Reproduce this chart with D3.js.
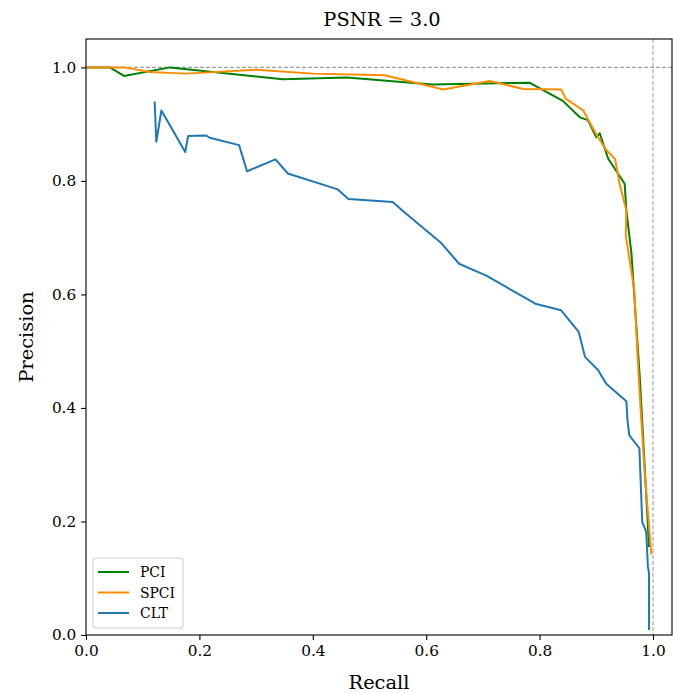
<!DOCTYPE html>
<html>
<head>
<meta charset="utf-8">
<script src="https://cdn.jsdelivr.net/npm/d3@7"></script>
<style>
  body { margin: 0; background: #fff; }
  text { font-family: "DejaVu Serif", serif; }
</style>
</head>
<body>
<svg id="chart" width="673" height="693"></svg>
<script>
const title = "PSNR = 3.0";
const xLabel = "Recall";
const yLabel = "Precision";
const xTicks = [0.0, 0.2, 0.4, 0.6, 0.8, 1.0];
const yTicks = [0.0, 0.2, 0.4, 0.6, 0.8, 1.0];
const seriesNames = ["PCI", "SPCI", "CLT"];
const seriesColors = ["#008000", "#ff8c00", "#1f77b4"];

const pciRecall = [0.0, 0.042, 0.067, 0.148, 0.347, 0.46, 0.611, 0.782, 0.841, 0.871, 0.885, 0.9, 0.906, 0.921, 0.950, 0.953, 0.962, 0.977, 0.993];
const pciPrecision = [1.0, 1.0, 0.985, 1.0, 0.979, 0.982, 0.970, 0.973, 0.941, 0.912, 0.907, 0.877, 0.884, 0.839, 0.795, 0.748, 0.672, 0.449, 0.155];

const spciRecall = [0.0, 0.068, 0.112, 0.177, 0.30, 0.40, 0.527, 0.63, 0.712, 0.771, 0.838, 0.846, 0.877, 0.891, 0.903, 0.918, 0.933, 0.941, 0.953, 0.952, 0.967, 0.975, 0.985, 0.997];
const spciPrecision = [1.0, 1.0, 0.992, 0.989, 0.996, 0.989, 0.986, 0.961, 0.976, 0.962, 0.961, 0.945, 0.924, 0.898, 0.877, 0.854, 0.839, 0.795, 0.748, 0.704, 0.607, 0.449, 0.29, 0.142];

const cltRecall = [0.121, 0.124, 0.133, 0.175, 0.18, 0.212, 0.218, 0.270, 0.284, 0.334, 0.356, 0.444, 0.463, 0.541, 0.559, 0.589, 0.627, 0.658, 0.706, 0.794, 0.838, 0.869, 0.88, 0.903, 0.918, 0.953, 0.955, 0.958, 0.976, 0.981, 0.988, 0.991, 0.993, 0.993];
const cltPrecision = [0.940, 0.869, 0.924, 0.851, 0.879, 0.880, 0.876, 0.863, 0.817, 0.838, 0.813, 0.785, 0.768, 0.763, 0.747, 0.722, 0.690, 0.654, 0.633, 0.583, 0.572, 0.534, 0.490, 0.467, 0.442, 0.412, 0.379, 0.352, 0.329, 0.199, 0.182, 0.12, 0.109, 0.009];

const svg = d3.select("#chart");
const L = 86, R = 672, T = 39, B = 635;
const x = d3.scaleLinear().domain([0, 1.0335]).range([L, R]);
const y = d3.scaleLinear().domain([0, 1.05]).range([B, T]);

// reference dashed lines
svg.append("line").attr("x1", L).attr("x2", R).attr("y1", y(1)).attr("y2", y(1))
  .attr("stroke", "#a0a0a0").attr("stroke-width", 1.1).attr("stroke-dasharray", "4,2");
svg.append("line").attr("x1", x(1)).attr("x2", x(1)).attr("y1", T).attr("y2", B)
  .attr("stroke", "#a0a0a0").attr("stroke-width", 1.1).attr("stroke-dasharray", "4,2");

const series = [
  [pciRecall, pciPrecision],
  [spciRecall, spciPrecision],
  [cltRecall, cltPrecision]
];
const line = d3.line().x(d => x(d[0])).y(d => y(d[1]));
series.forEach((s, i) => {
  const pts = s[0].map((r, j) => [r, s[1][j]]);
  svg.append("path").datum(pts).attr("d", line)
    .attr("fill", "none").attr("stroke", seriesColors[i]).attr("stroke-width", 2)
    .attr("stroke-linejoin", "round");
});

// axes
const xAxis = d3.axisBottom(x).tickValues(xTicks).tickFormat(d3.format(".1f")).tickSize(4.9).tickPadding(4.9);
const yAxis = d3.axisLeft(y).tickValues(yTicks).tickFormat(d3.format(".1f")).tickSize(4.9).tickPadding(4.9);
const gx = svg.append("g").attr("transform", `translate(0,${B})`).call(xAxis);
const gy = svg.append("g").attr("transform", `translate(${L},0)`).call(yAxis);
[gx, gy].forEach(g => {
  g.select(".domain").remove();
  g.selectAll(".tick line").attr("stroke", "#000").attr("stroke-width", 1.1);
  g.selectAll(".tick text").attr("font-family", "DejaVu Serif").attr("font-size", 15.3).attr("fill", "#000");
});

// spines
svg.append("rect").attr("x", L).attr("y", T).attr("width", R - L).attr("height", B - T)
  .attr("fill", "none").attr("stroke", "#000").attr("stroke-width", 1.1);

// title & labels
svg.append("text").attr("x", (L + R) / 2 + 3).attr("y", 26).attr("text-anchor", "middle")
  .attr("font-size", 19.4).text(title);
svg.append("text").attr("x", (L + R) / 2).attr("y", 689).attr("text-anchor", "middle")
  .attr("font-size", 19.4).text(xLabel);
svg.append("text").attr("transform", `translate(33,${(T + B) / 2}) rotate(-90)`).attr("text-anchor", "middle")
  .attr("font-size", 19.4).text(yLabel);

// legend
const lg = svg.append("g").attr("transform", "translate(93,558)");
lg.append("rect").attr("x", 0).attr("y", 0).attr("width", 90).attr("height", 70).attr("rx", 3)
  .attr("fill", "#fff").attr("fill-opacity", 0.8).attr("stroke", "#d0d0d0").attr("stroke-width", 1.1);
seriesNames.forEach((n, i) => {
  const yy = 14 + i * 20.5;
  lg.append("line").attr("x1", 5).attr("x2", 36).attr("y1", yy).attr("y2", yy)
    .attr("stroke", seriesColors[i]).attr("stroke-width", 2);
  lg.append("text").attr("x", 47).attr("y", yy + 5).attr("font-size", 13.9).text(n);
});
</script>
</body>
</html>
